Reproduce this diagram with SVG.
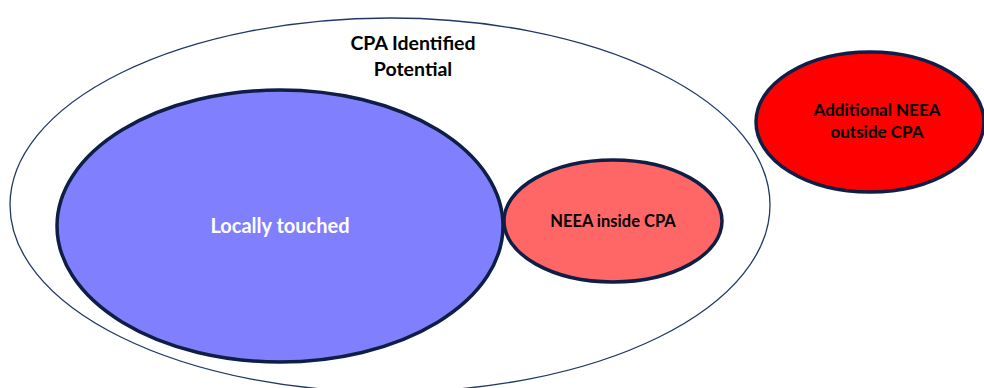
<svg xmlns="http://www.w3.org/2000/svg" width="984" height="388" viewBox="0 0 984 388">
<style>
.node{stroke:#0E1E45;stroke-width:3.5}
.lbl{font-family:Lato,"Open Sans","Liberation Sans",sans-serif;font-weight:bold;text-anchor:middle}
</style>
<rect width="984" height="388" fill="#ffffff"/>
<g id="cpa">
<ellipse cx="390" cy="205" rx="380" ry="187" fill="none" stroke="#1F3864" stroke-width="1.3"/>
<text class="lbl" x="413" y="50" font-size="19.5">CPA Identified</text>
<text class="lbl" x="413" y="76" font-size="19.5">Potential</text>
</g>
<g id="local">
<ellipse class="node" cx="280" cy="226" rx="223" ry="136" fill="#8080FF"/>
<text class="lbl" x="280" y="233" font-size="20" fill="#ffffff">Locally touched</text>
</g>
<g id="neea-inside">
<ellipse class="node" cx="613" cy="221" rx="109" ry="61" fill="#FF6666"/>
<text class="lbl" x="613" y="227" font-size="16.5" fill="#000000">NEEA inside CPA</text>
</g>
<g id="neea-outside">
<ellipse class="node" cx="870" cy="122" rx="114" ry="70" fill="#FF0000"/>
<text class="lbl" x="877" y="116" font-size="17" fill="#000000">Additional NEEA</text>
<text class="lbl" x="877" y="138" font-size="17" fill="#000000">outside CPA</text>
</g>
<g id="connectors"></g>
</svg>
